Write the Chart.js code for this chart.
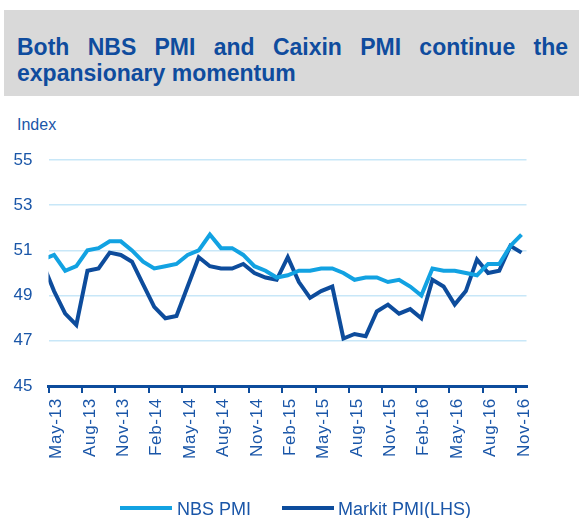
<!DOCTYPE html>
<html><head><meta charset="utf-8">
<script src="https://cdn.jsdelivr.net/npm/chart.js@4"></script>
<style>
html,body{margin:0;padding:0;background:#fff;width:579px;height:518px;overflow:hidden;font-family:"Liberation Sans",Arial,sans-serif;}
#box{position:absolute;left:4px;top:10px;width:575px;height:86px;background:#d9d9d9;}
#title{position:absolute;left:17px;top:34px;width:551px;font-weight:bold;font-size:23px;line-height:26px;color:#0f4c9e;text-align:justify;}
#index{position:absolute;left:17px;top:117px;font-size:16px;line-height:16px;color:#1a56a8;}
#wrap{position:absolute;left:0;top:100px;width:579px;height:418px;}
.lg{position:absolute;top:500px;font-size:18px;line-height:18px;color:#1a56a8;white-space:nowrap;}
.sw{position:absolute;height:4px;top:506px;}
</style></head><body>
<div id="box"></div>
<div id="title">Both NBS PMI and Caixin PMI continue the expansionary momentum</div>
<div id="index">Index</div>
<div id="wrap"><canvas id="c"></canvas></div>
<div class="sw" id="sw1" style="left:120px;width:52px;"></div>
<div class="lg" style="left:177px;">NBS PMI</div>
<div class="sw" id="sw2" style="left:282px;width:52px;"></div>
<div class="lg" style="left:338px;">Markit PMI(LHS)</div>
<script>
// Months (Apr-13 .. Nov-16); Apr-13 only shows as the clipped start of the lines
const months = ['Apr-13','May-13','Jun-13','Jul-13','Aug-13','Sep-13','Oct-13','Nov-13','Dec-13',
  'Jan-14','Feb-14','Mar-14','Apr-14','May-14','Jun-14','Jul-14','Aug-14','Sep-14','Oct-14','Nov-14','Dec-14',
  'Jan-15','Feb-15','Mar-15','Apr-15','May-15','Jun-15','Jul-15','Aug-15','Sep-15','Oct-15','Nov-15','Dec-15',
  'Jan-16','Feb-16','Mar-16','Apr-16','May-16','Jun-16','Jul-16','Aug-16','Sep-16','Oct-16','Nov-16'];
const nbsPMI = [50.6,
  50.8,50.1,50.3,51.0,51.1,51.4,51.4,51.0,
  50.5,50.2,50.3,50.4,50.8,51.0,51.7,51.1,51.1,50.8,50.3,50.1,
  49.8,49.9,50.1,50.1,50.2,50.2,50.0,49.7,49.8,49.8,49.6,49.7,
  49.4,49.0,50.2,50.1,50.1,50.0,49.9,50.4,50.4,51.2,51.7];
const markitPMI = [50.4,
  49.2,48.2,47.7,50.1,50.2,50.9,50.8,50.5,
  49.5,48.5,48.0,48.1,49.4,50.7,50.3,50.2,50.2,50.4,50.0,49.8,
  49.7,50.7,49.6,48.9,49.2,49.4,47.1,47.3,47.2,48.3,48.6,48.2,
  48.4,48.0,49.7,49.4,48.6,49.2,50.6,50.0,50.1,51.2,50.9];
const xTickLabels = ['May-13','Aug-13','Nov-13','Feb-14','May-14','Aug-14','Nov-14','Feb-15',
  'May-15','Aug-15','Nov-15','Feb-16','May-16','Aug-16','Nov-16'];
const yMin = 45, yMax = 55, yStep = 2;
const seriesNames = ['NBS PMI','Markit PMI(LHS)'];

const NBS_COLOR = '#12a2e2';
const MARKIT_COLOR = '#0d4c9c';
const TEXT_COLOR = '#1a56a8';
const FONT = '"Liberation Sans", Arial, sans-serif';
document.getElementById('sw1').style.background = NBS_COLOR;
document.getElementById('sw2').style.background = MARKIT_COLOR;

const toPoints = arr => arr.map((v, i) => ({x: i, y: v}));
const firstLabelIdx = months.indexOf(xTickLabels[0]);

const spacingPlugin = {
  id: 'xLabelSpacing',
  afterLayout(chart) {
    const sc = chart.scales.x;
    if (sc && !sc._patched) {
      const orig = sc.drawLabels.bind(sc);
      sc.drawLabels = function(area) {
        const ctx = this.ctx; ctx.save(); ctx.letterSpacing = '0.7px'; orig(area); ctx.restore();
      };
      sc._patched = true;
    }
  }
};

new Chart(document.getElementById('c'), {
  type: 'line',
  data: {
    datasets: [
      {label: seriesNames[0], data: toPoints(nbsPMI), borderColor: NBS_COLOR, backgroundColor: NBS_COLOR,
       borderWidth: 4, pointRadius: 0, tension: 0, clip: 0},
      {label: seriesNames[1], data: toPoints(markitPMI), borderColor: MARKIT_COLOR, backgroundColor: MARKIT_COLOR,
       borderWidth: 4, pointRadius: 0, tension: 0, clip: 0}
    ]
  },
  options: {
    responsive: true, maintainAspectRatio: false, animation: false,
    layout: {padding: {top: 60, left: 0, right: 52.5, bottom: 0}},
    plugins: {legend: {display: false}, tooltip: {enabled: false}},
    scales: {
      x: {
        type: 'linear', min: firstLabelIdx - 0.5, max: months.length - 1 + 0.45,
        afterBuildTicks: sc => { sc.ticks = xTickLabels.map(l => ({value: months.indexOf(l) - 0.5})); },
        afterFit: sc => { sc.height = 132; },
        ticks: {
          callback: (v, i) => xTickLabels[i],
          autoSkip: false, minRotation: 90, maxRotation: 90,
          font: {size: 17, family: FONT, lineHeight: 1}, color: TEXT_COLOR, padding: 5, labelOffset: 8
        },
        grid: {drawOnChartArea: false, drawTicks: true, tickLength: 7, color: MARKIT_COLOR, lineWidth: 2},
        border: {display: true, color: MARKIT_COLOR, width: 3}
      },
      y: {
        min: yMin, max: yMax,
        afterFit: sc => { sc.width = 48.5; },
        ticks: {stepSize: yStep, font: {size: 17, family: FONT}, color: TEXT_COLOR, padding: 16},
        grid: {color: '#c8e7f8', lineWidth: 1.5, drawTicks: false},
        border: {display: false}
      }
    }
  },
  plugins: [spacingPlugin]
});
</script>
</body></html>
